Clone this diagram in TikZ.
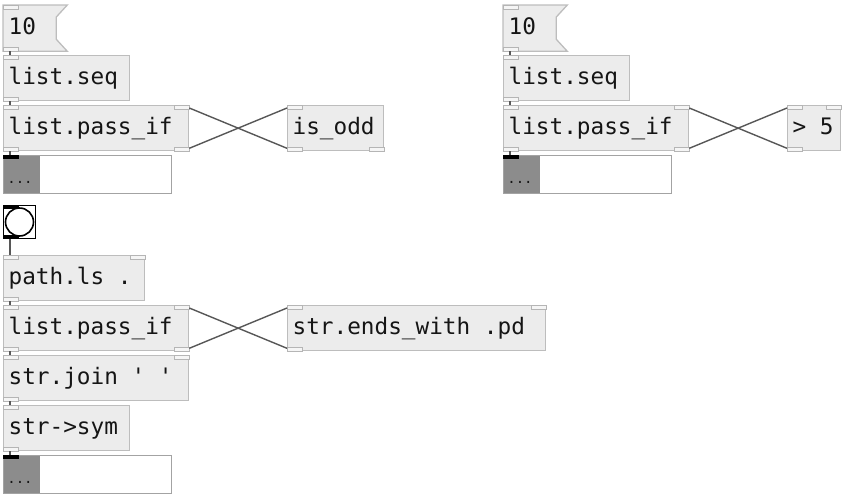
\documentclass[tikz,border=0pt]{standalone}
\usepackage{fontspec}
\newfontfamily\pdfont{DejaVu Sans Mono}
\newcommand{\pdsp}{\hphantom{0}}
\usetikzlibrary{positioning,backgrounds}
\definecolor{pdfill}{HTML}{ECECEC}
\definecolor{pdline}{HTML}{BDBDBD}
\definecolor{pdport}{HTML}{B5B5B5}
\definecolor{pdwire}{HTML}{575757}
\definecolor{pdknob}{HTML}{8C8C8C}
\definecolor{pdtext}{HTML}{151515}

\begin{document}
\begin{tikzpicture}[x=1pt, y=-1pt,
            obj/.style ={draw=pdline, fill=pdfill, line width=1.3pt, anchor=north west,
            text width=#1, align=left, inner xsep=5pt, inner ysep=0pt, minimum height=45pt,
            text height=17pt, text depth=5pt, text=pdtext, font=\pdfont\fontsize{22.7}{27}\selectfont},
            msg/.style ={obj=#1, draw=none, fill=none},
            disp/.style ={draw=pdknob!80, fill=white, line width=1.3pt, anchor=north west,
            minimum width=168pt, minimum height=38pt, inner sep=0pt},
            knob/.style ={fill=pdknob, anchor=west, minimum width=36pt, minimum height=36.6pt, inner sep=0pt},
            dots/.style ={anchor=base, inner sep=0pt, text=pdtext, font=\pdfont\fontsize{14}{14}\selectfont},
            bng/.style ={draw=black, fill=white, line width=1pt, anchor=north west,
            minimum width=32pt, minimum height=33pt, inner sep=0pt},
            port/.style ={draw=pdport, fill=pdfill!50!white, line width=0.8pt},
            wire/.style ={draw=pdwire, line width=1.4pt}]
        \useasboundingbox (0,0) rectangle (847,496);

        % list.seq / is_odd
        \node[msg=53pt] (msgA) at (3,5) {10};
        \node[obj=116pt] (seqA) at (3,55) {list.seq};
        \node[obj=175pt] (passA) at (3,105) {list.pass\_if};
        \node[obj=86pt] (oddA) at (287,105) {is\_odd};
        \node[disp] (dispA) at (3,155) {};

        % list.seq / > 5
        \node[msg=53pt] (msgB) at (503,5) {10};
        \node[obj=116pt] (seqB) at (503,55) {list.seq};
        \node[obj=175pt] (passB) at (503,105) {list.pass\_if};
        \node[obj=43pt] (gtB) at (787,105) {>\pdsp5};
        \node[disp] (dispB) at (503,155) {};

        % path.ls
        \node[bng] (bangC) at (3,205) {};
        \node[obj=131pt] (lsC) at (3,255) {path.ls\pdsp.};
        \node[obj=175pt] (passC) at (3,305) {list.pass\_if};
        \node[obj=248pt] (endsC) at (287,305) {str.ends\_with\pdsp.pd};
        \node[obj=175pt] (joinC) at (3,355) {str.join\pdsp'\pdsp'};
        \node[obj=116pt] (symC) at (3,405) {str->sym};
        \node[disp] (dispC) at (3,455) {};

        % message boxes
        \begin{scope}[on background layer]
        \foreach \m in {msgA, msgB}
            \filldraw[draw=pdline, fill=pdfill, line width=1.3pt] (\m.north west) -- (\m.north east)
                -- ([xshift=-11pt, yshift=-12pt]\m.north east) -- ([xshift=-11pt, yshift=12pt]\m.south east)
                -- (\m.south east) -- (\m.south west) -- cycle;
        \end{scope}

        % list displays
        \foreach \d/\k in {dispA/knobA, dispB/knobB, dispC/knobC} {
            \node[knob] (\k) at ([xshift=0.65pt]\d.west) {};
            \node[dots] (\k dots) at ([xshift=17pt, yshift=-9pt]\d.west) {...};
            \fill (\d.north west) rectangle ++(16,4);
        }

        % bang
        \draw[line width=1.6pt] (bangC.center) circle[radius=14pt];
        \fill (bangC.north west) rectangle ++(16,4);
        \fill (bangC.south west) rectangle ++(16,-4);

        % inlets and outlets
        \foreach \n in {msgA, seqA, passA, oddA, msgB, seqB, passB, gtB, lsC, passC, endsC, joinC, symC} {
            \draw[port] (\n.north west) rectangle ++(15,4);
            \draw[port] (\n.south west) rectangle ++(15,-4);
        }
        \foreach \n in {passA, passB, gtB, lsC, passC, endsC, joinC}
            \draw[port] (\n.north east) rectangle ++(-15,4);
        \foreach \n in {passA, oddA, passB, passC}
            \draw[port] (\n.south east) rectangle ++(-15,-4);

        % connections
        \foreach \a/\b in {msgA/seqA, seqA/passA, passA/dispA, msgB/seqB, seqB/passB, passB/dispB,
                           bangC/lsC, lsC/passC, passC/joinC, joinC/symC, symC/dispC}
            \draw[wire] ([xshift=7pt]\a.south west) -- ([xshift=7pt]\b.north west);
        \foreach \p/\f in {passA/oddA, passB/gtB, passC/endsC} {
            \draw[wire] ([yshift=3pt]\p.south east) -- ([yshift=-3pt]\f.north west);
            \draw[wire] ([yshift=3pt]\f.south west) -- ([yshift=-3pt]\p.north east);
        }
    \end{tikzpicture}
\end{document}
